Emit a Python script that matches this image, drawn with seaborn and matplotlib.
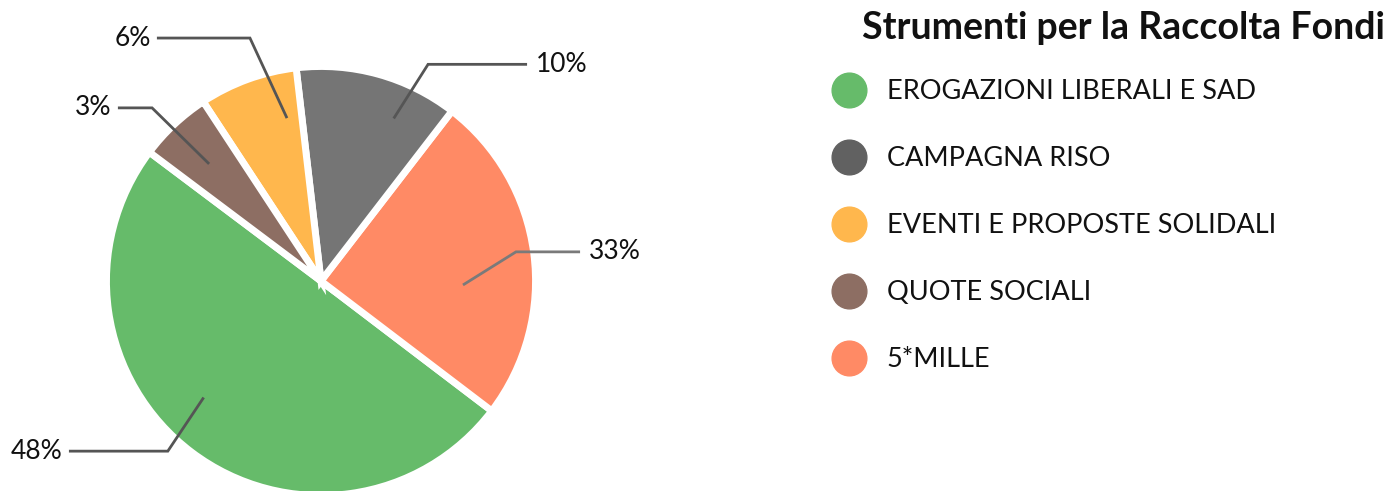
import numpy as np
import matplotlib
matplotlib.use("Agg")
import matplotlib.pyplot as plt
from matplotlib.lines import Line2D
import seaborn as sns

# dati (ordine della legenda)
categorie = ["EROGAZIONI LIBERALI E SAD", "CAMPAGNA RISO", "EVENTI E PROPOSTE SOLIDALI",
             "QUOTE SOCIALI", "5*MILLE"]
valori = [49.9, 12.3, 7.4, 5.5, 24.9]          # ampiezza delle fette come disegnate
etichette = ["48%", "10%", "6%", "3%", "33%"]   # percentuali scritte sul grafico
colori_fette = ["#66BB6A", "#757575", "#FFB74D", "#8D6E63", "#FF8A65"]
colori_legenda = ["#66BB6A", "#616161", "#FFB74D", "#8D6E63", "#FF8A65"]
titolo = "Strumenti per la Raccolta Fondi"

# ordine delle fette in senso antiorario partendo dal verde
ordine = [0, 4, 1, 2, 3]

# linee guida: angolo ancora, raggio ancora, angolo gomito, raggio gomito, fine linea x, colore
guide = {
    0: (224.8, 0.78, 228, 1.08, -1.189, "#555555"),
    4: (-1.6, 0.67, 8.5, 0.93, 1.222, "#7a7a7a"),
    1: (65.9, 0.84, 63.7, 1.14, 0.972, "#555555"),
    2: (101.8, 0.785, 106.3, 1.194, -0.774, "#555555"),
    3: (133.7, 0.764, 134.3, 1.141, -0.958, "#555555"),
}

sns.set_theme(style="white")
plt.rcParams["font.family"] = ["Lato", "DejaVu Sans"]

fig = plt.figure(figsize=(13.91, 4.91), dpi=100)
ax = fig.add_axes([0, 0, 1, 1])
R = 212.0
cx, cy = 321, 281

ax.pie([valori[i] for i in ordine], colors=[colori_fette[i] for i in ordine],
       startangle=143.1, counterclock=True, radius=1.012,
       wedgeprops=dict(edgecolor="white", linewidth=5))
ax.set_aspect("auto")
ax.set_xlim(-cx / R, (1391 - cx) / R)
ax.set_ylim(-(491 - cy) / R, cy / R)
ax.axis("off")

for i in ordine:
    a1, r1, a2, r2, xend, col = guide[i]
    p1 = (r1 * np.cos(np.radians(a1)), r1 * np.sin(np.radians(a1)))
    p2 = (r2 * np.cos(np.radians(a2)), r2 * np.sin(np.radians(a2)))
    ax.plot([p1[0], p2[0], xend], [p1[1], p2[1], p2[1]], color=col, lw=2,
            solid_capstyle="butt", solid_joinstyle="miter")
    if xend < p2[0]:
        ax.text(xend - 0.03, p2[1], etichette[i], ha="right", va="center",
                fontsize=19, color="#111111")
    else:
        ax.text(xend + 0.04, p2[1], etichette[i], ha="left", va="center",
                fontsize=19, color="#111111")

fig.text(1385 / 1391, 1 - 28 / 491, titolo, ha="right", va="center",
         fontsize=27, fontweight="bold", color="#111111")

maniglie = [Line2D([], [], marker="o", ls="", ms=25, color=c) for c in colori_legenda]
fig.legend(maniglie, categorie, loc="upper left", bbox_to_anchor=(811 / 1391, 1 - 55 / 491),
           frameon=False, fontsize=19.5, labelspacing=1.55, handletextpad=0.9,
           handlelength=1.0, labelcolor="#111111")

fig.savefig("out.png", dpi=100)
